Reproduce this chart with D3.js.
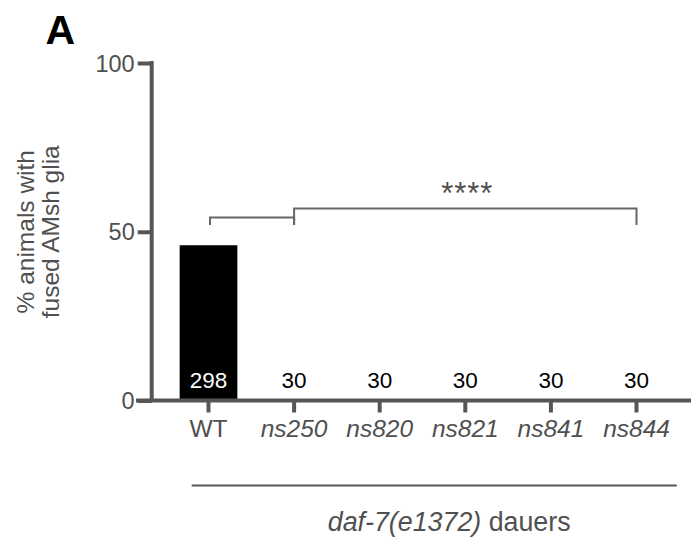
<!DOCTYPE html>
<html>
<head>
<meta charset="utf-8">
<script src="https://cdn.jsdelivr.net/npm/d3@7"></script>
<style>
  html, body { margin: 0; padding: 0; background: #fff; }
  svg { display: block; }
  text { font-family: "Liberation Sans", Arial, Helvetica, sans-serif; }
</style>
</head>
<body>
<script>
// ---- data ----
const categories = ["WT", "ns250", "ns820", "ns821", "ns841", "ns844"];
const italicCats = [false, true, true, true, true, true];
const values = [46, 0, 0, 0, 0, 0];
const counts = ["298", "30", "30", "30", "30", "30"];
const yTicks = [0, 50, 100];
const yLabelLines = ["% animals with", "fused AMsh glia"];
const panelLetter = "A";
const sigLabel = "****";
// bracket: left group (WT) vs right group (ns250..ns844)
const bracketLeft = { from: "WT", to: "ns250", level: 54.2, leg: 52 };
const bracketRight = { from: "ns250", to: "ns844", level: 56.9, leg: 52 };

// ---- layout ----
const W = 694, H = 538;
const axisColor = "#565656";
const textColor = "#505050";

const svg = d3.select("body").append("svg").attr("width", W).attr("height", H);

const x = d3.scaleBand()
  .domain(categories)
  .range([165.7, 679.3])
  .paddingInner(0.326)
  .paddingOuter(0.163);

const y = d3.scaleLinear().domain([0, 100]).range([400.5, 63]);

const cx = c => x(c) + x.bandwidth() / 2;

// bars
svg.selectAll("rect.bar")
  .data(values)
  .enter().append("rect")
  .attr("class", "bar")
  .attr("x", (d, i) => x(categories[i]))
  .attr("width", x.bandwidth())
  .attr("y", d => y(d))
  .attr("height", d => y(0) - y(d))
  .attr("fill", "#000");

// count labels
svg.selectAll("text.count")
  .data(counts)
  .enter().append("text")
  .attr("class", "count")
  .attr("x", (d, i) => cx(categories[i]))
  .attr("y", 387.5)
  .attr("text-anchor", "middle")
  .attr("font-size", 22.5)
  .attr("fill", (d, i) => values[i] > 5 ? "#fff" : "#000")
  .text(d => d);

// y axis
const yAxis = d3.axisLeft(y).tickValues(yTicks).tickSize(14).tickPadding(3).tickSizeOuter(0);
const gy = svg.append("g").attr("transform", "translate(151.7,0)").call(yAxis);
gy.select(".domain").attr("stroke", axisColor).attr("stroke-width", 4)
  .attr("d", `M0,${y(100) - 2}V${y(0)}`);
gy.selectAll(".tick line").attr("stroke", axisColor).attr("stroke-width", 4);
gy.selectAll(".tick text").attr("fill", textColor).attr("font-size", 23.5)
  .attr("font-family", "'Liberation Sans', Arial, sans-serif").attr("dy", "0.35em");

// x axis
const xAxis = d3.axisBottom(x).tickSize(12).tickSizeOuter(0).tickPadding(6);
const gx = svg.append("g").attr("transform", `translate(0,${y(0)})`).call(xAxis);
gx.select(".domain").attr("stroke", axisColor).attr("stroke-width", 4)
  .attr("d", "M136,0H691");
gx.selectAll(".tick line").attr("stroke", axisColor).attr("stroke-width", 4);
gx.selectAll(".tick text")
  .attr("fill", textColor).attr("font-size", 24.5)
  .attr("font-family", "'Liberation Sans', Arial, sans-serif")
  .attr("dy", "0.76em")
  .attr("font-style", (d, i) => italicCats[i] ? "italic" : "normal");

// y label
svg.selectAll("text.ylab")
  .data(yLabelLines)
  .enter().append("text")
  .attr("class", "ylab")
  .attr("transform", (d, i) => `translate(${33.5 + i * 25.5},${y(50)}) rotate(-90)`)
  .attr("text-anchor", "middle")
  .attr("font-size", 24.5)
  .attr("fill", textColor)
  .text(d => d);

// panel letter
svg.append("text")
  .attr("x", 45.5).attr("y", 43.5)
  .attr("font-size", 41).attr("font-weight", "bold").attr("fill", "#000")
  .text(panelLetter);

// significance brackets
const brColor = "#666";
function bracket(b, x1off) {
  const x1 = cx(b.from) + x1off, x2 = cx(b.to);
  const p = d3.path();
  p.moveTo(x1, y(b.leg)); p.lineTo(x1, y(b.level)); p.lineTo(x2, y(b.level)); p.lineTo(x2, y(b.leg));
  svg.append("path").attr("d", p.toString()).attr("fill", "none")
    .attr("stroke", brColor).attr("stroke-width", 2);
}
bracket(bracketLeft, 1.5);
bracket(bracketRight, 0);

svg.append("text")
  .attr("x", (cx(bracketRight.from) + cx(bracketRight.to)) / 2 + 2)
  .attr("y", 204)
  .attr("text-anchor", "middle")
  .attr("font-size", 31)
  .attr("letter-spacing", 1)
  .attr("fill", textColor)
  .text(sigLabel);

// group line and label
svg.append("line")
  .attr("x1", 191.7).attr("x2", 676.7)
  .attr("y1", 485.5).attr("y2", 485.5)
  .attr("stroke", axisColor).attr("stroke-width", 2);

const grp = svg.append("text")
  .attr("x", (191.7 + 676.7) / 2 + 15)
  .attr("y", 530.5)
  .attr("text-anchor", "middle")
  .attr("font-size", 26.8)
  .attr("fill", textColor);
grp.append("tspan").attr("font-style", "italic").text("daf-7(e1372)");
grp.append("tspan").text(" dauers");
</script>
</body>
</html>
